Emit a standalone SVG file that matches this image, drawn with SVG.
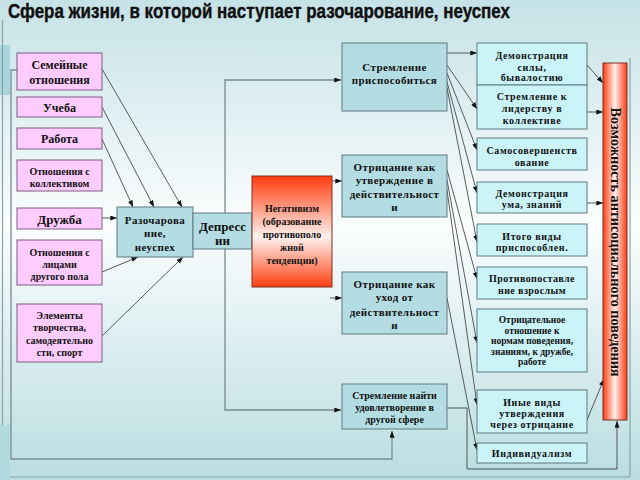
<svg xmlns="http://www.w3.org/2000/svg" width="640" height="480" viewBox="0 0 640 480">
<defs>
<linearGradient id="bg" x1="0" y1="0" x2="0" y2="1">
<stop offset="0" stop-color="#c5e2e6"/>
<stop offset="0.47" stop-color="#fbfdfd"/>
<stop offset="1" stop-color="#b9dde1"/>
</linearGradient>
<linearGradient id="neg" x1="0" y1="0" x2="0" y2="1">
<stop offset="0" stop-color="#ff3a0c"/>
<stop offset="0.55" stop-color="#fff2ee"/>
<stop offset="1" stop-color="#ff3e12"/>
</linearGradient>
<linearGradient id="bar" x1="0" y1="0" x2="1" y2="0">
<stop offset="0" stop-color="#ff3a10"/>
<stop offset="0.5" stop-color="#fff0ec"/>
<stop offset="1" stop-color="#ff3a10"/>
</linearGradient>
<marker id="a" viewBox="0 0 8 6" refX="8" refY="3" markerWidth="7" markerHeight="5" orient="auto" markerUnits="userSpaceOnUse">
<path d="M0,0 L8,3 L0,6z" fill="#111"/>
</marker>
<style>
.p{fill:#ffccff;stroke:#7d5c80;stroke-width:1}
.m{fill:#b4dde3;stroke:#5c7b80;stroke-width:1}
.r{fill:#caf4f8;stroke:#5c7b80;stroke-width:1}
.t{font-family:"Liberation Serif","DejaVu Serif",serif;font-weight:bold;text-anchor:middle;fill:#111}
.c{stroke:#333;stroke-width:0.8;fill:none}
.g{stroke:#7a8a8c;stroke-width:1.3;fill:none}
.f{stroke:#8aa2a6;stroke-width:1.2;fill:none}
</style>
</defs>
<rect x="0" y="0" width="640" height="480" fill="url(#bg)"/>
<rect x="0" y="45" width="10" height="50" fill="#a9d6da"/>
<rect x="0" y="425" width="10" height="55" fill="#b0dadd"/>
<path class="f" d="M2.5,20 V425 M10,477 H630 M630,58 V477"/>
<text x="8" y="18" font-family="'Liberation Sans',Arial,sans-serif" font-weight="bold" font-size="20" fill="#111" stroke="#111" stroke-width="0.4" textLength="502" lengthAdjust="spacingAndGlyphs">Сфера жизни, в которой наступает разочарование, неуспех</text>

<g id="connectors">
<path class="g" d="M17,70 H11 V459 H392 V431" marker-end="url(#a)"/>
<path class="g" d="M225,245 V80 H341" marker-end="url(#a)"/>
<path class="g" d="M225,245 V410 H341" marker-end="url(#a)"/>
<path class="c" d="M102,69 L182,207" marker-end="url(#a)"/>
<path class="c" d="M102,107 L154,207" marker-end="url(#a)"/>
<path class="c" d="M102,139 L133,207" marker-end="url(#a)"/>
<path class="c" d="M102,218 H117" marker-end="url(#a)"/>
<path class="c" d="M102,272 L138,257" marker-end="url(#a)"/>
<path class="c" d="M102,336 L183,257" marker-end="url(#a)"/>
<path class="c" d="M332,181 H342" marker-end="url(#a)"/>
<path class="c" d="M330,298 H342" marker-end="url(#a)"/>
<path class="c" d="M447,53 H477" marker-end="url(#a)"/>
<path class="c" d="M447,65 L477,109" marker-end="url(#a)"/>
<path class="c" d="M447,73 L477,150" marker-end="url(#a)"/>
<path class="c" d="M447,82 L477,193" marker-end="url(#a)"/>
<path class="c" d="M447,88 L477,242" marker-end="url(#a)"/>
<path class="c" d="M447,170 L477,279" marker-end="url(#a)"/>
<path class="c" d="M447,180 L477,343" marker-end="url(#a)"/>
<path class="c" d="M447,190 L477,405" marker-end="url(#a)"/>
<path class="c" d="M447,298 L477,450" marker-end="url(#a)"/>
<path class="c" d="M447,408 H467 V469 H617 V421" marker-end="url(#a)"/>
<path class="c" d="M587,65 L603,83" marker-end="url(#a)"/>
<path class="c" d="M587,112 H603" marker-end="url(#a)"/>
<path class="c" d="M587,203 H603" marker-end="url(#a)"/>
<path class="c" d="M587,420 L604,379" marker-end="url(#a)"/>
</g>

<g id="n-fam"><rect class="p" x="17" y="53" width="85" height="37"/>
<text class="t" font-size="12"><tspan x="59.5" y="69">Семейные</tspan><tspan x="59.5" y="84">отношения</tspan></text></g>
<g id="n-ucheba"><rect class="p" x="17" y="97" width="85" height="20"/>
<text class="t" font-size="12" x="59.5" y="112">Учеба</text></g>
<g id="n-rabota"><rect class="p" x="17" y="128" width="85" height="21"/>
<text class="t" font-size="12" x="59.5" y="143">Работа</text></g>
<g id="n-koll"><rect class="p" x="17" y="160" width="85" height="31"/>
<text class="t" font-size="10"><tspan x="59.5" y="175">Отношения с</tspan><tspan x="59.5" y="187">коллективом</tspan></text></g>
<g id="n-druzhba"><rect class="p" x="17" y="208" width="85" height="21"/>
<text class="t" font-size="13" x="59.5" y="224">Дружба</text></g>
<g id="n-pol"><rect class="p" x="17" y="240" width="85" height="45"/>
<text class="t" font-size="10"><tspan x="59.5" y="256">Отношения с</tspan><tspan x="59.5" y="268">лицами</tspan><tspan x="59.5" y="280">другого пола</tspan></text></g>
<g id="n-elem"><rect class="p" x="17" y="304" width="85" height="58"/>
<text class="t" font-size="10"><tspan x="59.5" y="319">Элементы</tspan><tspan x="59.5" y="331">творчества,</tspan><tspan x="59.5" y="344">самодеятельно</tspan><tspan x="59.5" y="356">сти, спорт</tspan></text></g>

<g id="n-razoch"><rect class="m" x="117" y="207" width="76" height="50"/>
<text class="t" font-size="11" letter-spacing="0.4"><tspan x="155" y="224">Разочарова</tspan><tspan x="155" y="237">ние,</tspan><tspan x="155" y="251">неуспех</tspan></text></g>
<g id="n-depr"><rect class="m" x="193" y="213" width="59" height="36"/>
<text class="t" font-size="13"><tspan x="222.5" y="231">Депресс</tspan><tspan x="222.5" y="245">ии</tspan></text></g>
<g id="n-neg"><rect x="252" y="176" width="80" height="111" fill="url(#neg)" stroke="#7a3020" stroke-width="1"/>
<text class="t" font-size="10"><tspan x="292" y="212">Негативизм</tspan><tspan x="292" y="225">(образование</tspan><tspan x="292" y="238">противополо</tspan><tspan x="292" y="251">жной</tspan><tspan x="292" y="264">тенденции)</tspan></text></g>

<g id="n-prisp"><rect class="m" x="342" y="43" width="105" height="68"/>
<text class="t" font-size="11" letter-spacing="0.4"><tspan x="394.5" y="71">Стремление</tspan><tspan x="394.5" y="84">приспособиться</tspan></text></g>
<g id="n-utv"><rect class="m" x="342" y="155" width="105" height="62"/>
<text class="t" font-size="11" letter-spacing="0.4"><tspan x="394.5" y="171">Отрицание как</tspan><tspan x="394.5" y="184">утверждение в</tspan><tspan x="394.5" y="198">действительност</tspan><tspan x="394.5" y="211">и</tspan></text></g>
<g id="n-uhod"><rect class="m" x="342" y="272" width="105" height="62"/>
<text class="t" font-size="11" letter-spacing="0.4"><tspan x="394.5" y="288">Отрицание как</tspan><tspan x="394.5" y="301">уход от</tspan><tspan x="394.5" y="316">действительност</tspan><tspan x="394.5" y="329">и</tspan></text></g>
<g id="n-nayti"><rect class="m" x="342" y="384" width="105" height="45"/>
<text class="t" font-size="10"><tspan x="394.5" y="399">Стремление найти</tspan><tspan x="394.5" y="411">удовлетворение в</tspan><tspan x="394.5" y="423">другой сфере</tspan></text></g>

<g id="n-sila"><rect class="r" x="477" y="43" width="110" height="42"/>
<text class="t" font-size="10" letter-spacing="0.6"><tspan x="532" y="58.5">Демонстрация</tspan><tspan x="532" y="70.5">силы,</tspan><tspan x="532" y="81">бывалостию</tspan></text></g>
<g id="n-lider"><rect class="r" x="477" y="85" width="110" height="44"/>
<text class="t" font-size="10" letter-spacing="0.6"><tspan x="532" y="100">Стремление к</tspan><tspan x="532" y="112">лидерству в</tspan><tspan x="532" y="124">коллективе</tspan></text></g>
<g id="n-samo"><rect class="r" x="477" y="138" width="110" height="32"/>
<text class="t" font-size="10" letter-spacing="0.6"><tspan x="532" y="153.5">Самосовершенств</tspan><tspan x="532" y="165.5">ование</tspan></text></g>
<g id="n-um"><rect class="r" x="477" y="182" width="110" height="31"/>
<text class="t" font-size="10" letter-spacing="0.6"><tspan x="532" y="196.5">Демонстрация</tspan><tspan x="532" y="208">ума, знаний</tspan></text></g>
<g id="n-itogo"><rect class="r" x="477" y="224" width="110" height="32"/>
<text class="t" font-size="10" letter-spacing="0.6"><tspan x="532" y="239.5">Итого виды</tspan><tspan x="532" y="251">приспособлен.</tspan></text></g>
<g id="n-vzr"><rect class="r" x="477" y="267" width="110" height="32"/>
<text class="t" font-size="10" letter-spacing="0.4"><tspan x="532" y="281.5">Противопоставле</tspan><tspan x="532" y="293.5">ние взрослым</tspan></text></g>
<g id="n-otr"><rect class="r" x="477" y="309" width="110" height="63"/>
<text class="t" font-size="9.5"><tspan x="532" y="323">Отрицательное</tspan><tspan x="532" y="333.5">отношение к</tspan><tspan x="532" y="344">нормам поведения,</tspan><tspan x="532" y="354.5">знаниям, к дружбе,</tspan><tspan x="532" y="365">работе</tspan></text></g>
<g id="n-inye"><rect class="r" x="477" y="390" width="110" height="43"/>
<text class="t" font-size="10" letter-spacing="0.6"><tspan x="532" y="405.5">Иные виды</tspan><tspan x="532" y="416.5">утверждения</tspan><tspan x="532" y="427.5">через отрицание</tspan></text></g>
<g id="n-indiv"><rect class="r" x="477" y="443" width="110" height="20"/>
<text class="t" font-size="10" letter-spacing="0.6" x="532" y="456.5">Индивидуализм</text></g>

<g id="n-bar"><rect x="603" y="63" width="24" height="357" fill="url(#bar)" stroke="#7a3020" stroke-width="1"/>
<text class="t" font-size="14" transform="translate(611,242) rotate(90)" x="0" y="0" textLength="269" lengthAdjust="spacingAndGlyphs">Возможность антисоциального поведения</text></g>
</svg>
